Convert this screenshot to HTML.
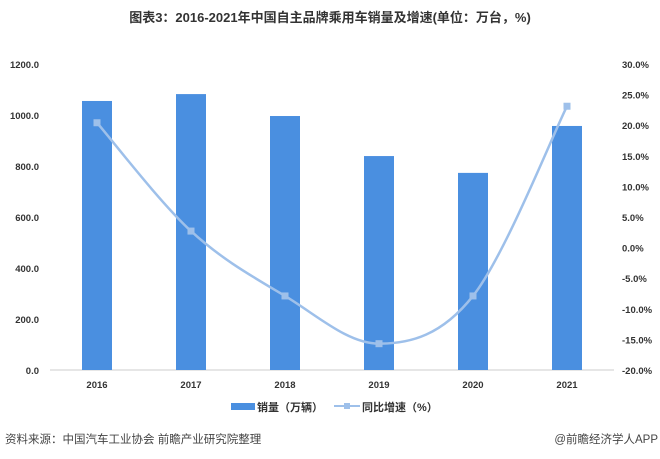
<!DOCTYPE html>
<html><head><meta charset="utf-8"><style>
body{margin:0;background:#fff;}
svg{display:block;font-family:"Liberation Sans","Noto Sans CJK SC",sans-serif;}
</style></head><body>
<svg id="c" width="660" height="459">
<text x="330" y="22" text-anchor="middle" font-size="13" font-weight="bold" fill="#333">图表3：2016-2021年中国自主品牌乘用车销量及增速(单位：万台，%)</text>
<g id="axes"></g><g id="bars"></g><g id="line"></g>
<g>
<rect x="231" y="403" width="24" height="7" fill="#4a8fe0"/>
<text x="257" y="411" font-size="11" font-weight="bold" fill="#333">销量（万辆）</text>
<line x1="334" y1="406" x2="360" y2="406" stroke="#9ec0ea" stroke-width="2"/>
<rect x="344" y="403" width="6" height="6" fill="#9ec0ea"/>
<text x="362" y="411" font-size="11" font-weight="bold" fill="#333">同比增速（%）</text>
</g>
<text x="5" y="443" font-size="11.5" fill="#444">资料来源：中国汽车工业协会 前瞻产业研究院整理</text>
<text x="658" y="443" text-anchor="end" font-size="11.5" fill="#444">@前瞻经济学人APP</text>
</svg>
<script>
const categories=["2016","2017","2018","2019","2020","2021"];
const sales=[1055,1082,996,839,773,957];
const growth=[20.4,2.7,-7.9,-15.7,-7.9,23.1];
const leftTicks=[0,200,400,600,800,1000,1200];
const rightTicks=[-20,-15,-10,-5,0,5,10,15,20,25,30];
const NS="http://www.w3.org/2000/svg";
const top0=64,bot=370,x0=50,step=94;
const yL=v=>bot-(v/1200)*(bot-top0);
const yR=v=>bot-((v+20)/50)*(bot-top0);
const xC=i=>x0+step/2+i*step;
function mk(t,a,p){const e=document.createElementNS(NS,t);for(const k in a)e.setAttribute(k,a[k]);p.appendChild(e);return e;}
const ax=document.getElementById('axes');
leftTicks.forEach(v=>{const t=mk('text',{x:39,y:yL(v)+4,'text-anchor':'end','font-size':9.5,'font-weight':'bold',fill:'#333'},ax);t.textContent=v.toFixed(1);

});
rightTicks.forEach(v=>{const t=mk('text',{x:622,y:yR(v)+4,'font-size':9.5,'font-weight':'bold',fill:'#333'},ax);t.textContent=v.toFixed(1)+'%';

});
const bl=mk('line',{x1:x0,x2:x0+step*6,y1:bot,y2:bot,stroke:'#ccc'},ax);


categories.forEach((c,i)=>{const t=mk('text',{x:xC(i),y:388,'text-anchor':'middle','font-size':9.5,'font-weight':'bold',fill:'#333'},ax);t.textContent=c;

});
const bg=document.getElementById('bars');
sales.forEach((v,i)=>{const r=mk('rect',{x:xC(i)-15,y:yL(v),width:30,height:bot-yL(v),fill:'#4a8fe0'},bg);

});
const lg=document.getElementById('line');
const pts=growth.map((v,i)=>[xC(i),yR(v)]);
let d='M'+pts[0];
for(let i=0;i<pts.length-1;i++){const p0=pts[i-1]||pts[i],p1=pts[i],p2=pts[i+1],p3=pts[i+2]||p2;
d+=` C${p1[0]+(p2[0]-p0[0])/6},${p1[1]+(p2[1]-p0[1])/6} ${p2[0]-(p3[0]-p1[0])/6},${p2[1]-(p3[1]-p1[1])/6} ${p2[0]},${p2[1]}`;}
const pa=mk('path',{d:d,fill:'none',stroke:'#9ec0ea','stroke-width':2.5},lg);


pts.forEach((p,i)=>{const r=mk('rect',{x:p[0]-3.5,y:p[1]-3.5,width:7,height:7,fill:'#9ec0ea'},lg);

});
</script>
</body></html>
